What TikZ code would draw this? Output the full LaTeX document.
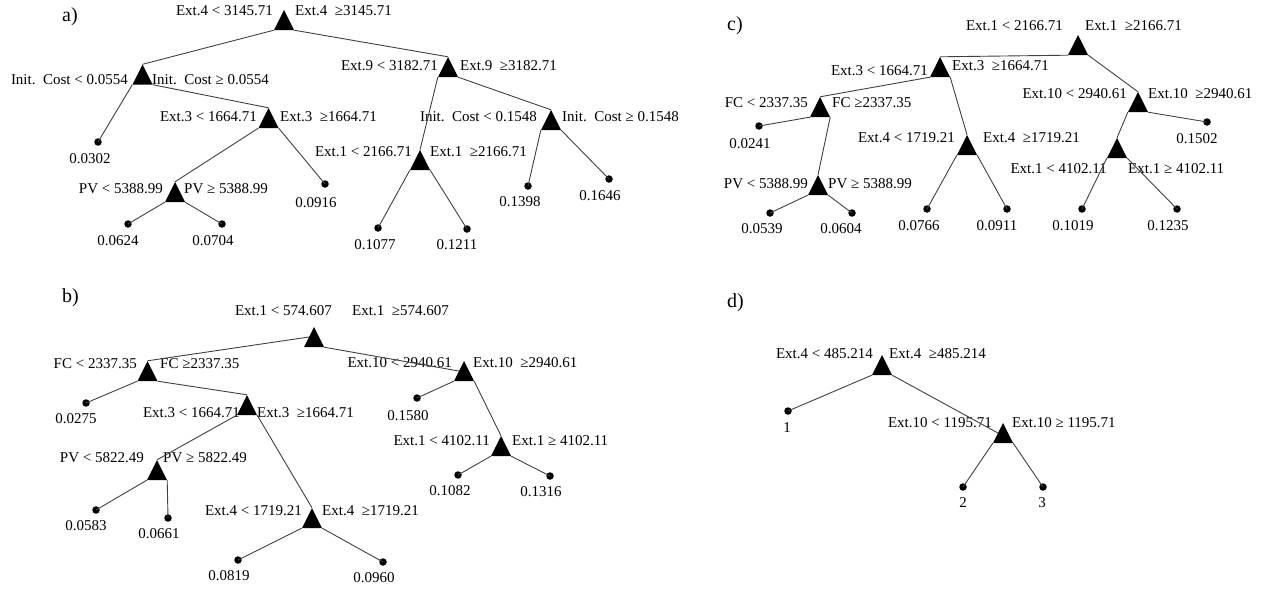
\documentclass[tikz,border=0pt]{standalone}
\usepackage{fontspec}
\setmainfont{Liberation Serif}
\usetikzlibrary{calc}

\tikzset{
  cond/.style={font=\fontsize{15}{18}\selectfont, inner sep=0pt},
  val/.style={font=\fontsize{15}{18}\selectfont, inner sep=0pt, anchor=base},
  panel/.style={font=\fontsize{20}{24}\selectfont, inner sep=0pt, anchor=base west},
  tri/.style={rectangle, draw=none, inner sep=0pt, minimum width=20pt, minimum height=20pt,
    path picture={\fill[black] (path picture bounding box.south west) --
      (path picture bounding box.south east) -- (path picture bounding box.north) -- cycle;}},
  dot/.style={circle, fill=black, inner sep=0pt, minimum size=7.5pt},
  edge/.style={draw=black!75, line width=0.9pt},
}

% split node: name, centre, left text anchor (base east), left text, right text anchor (base west), right text
\newcommand\tsplit[6]{%
  \node[tri] (#1) at (#2) {};
  \node[cond, anchor=base east] (#1l) at (#3) {#4};
  \node[cond, anchor=base west] (#1r) at (#5) {#6};
}
% leaf: name, dot centre, value position (base centre), value
\newcommand\tleaf[4]{%
  \node[dot] (#1) at (#2) {};
  \node[val] (#1t) at (#3) {#4};
}

\begin{document}
\begin{tikzpicture}[x=1pt, y=-1pt]
\useasboundingbox (0,0) rectangle (1273,592);

% ---------------- a) ----------------
\node[panel] (pa) at (62,21) {a)};
\tsplit{a0}{284,20}{273,15}{Ext.4 < 3145.71}{295,15}{Ext.4\ \ ≥3145.71}
\tsplit{a1}{142.5,74.5}{128,84}{Init.\ \ Cost < 0.0554}{152,84}{Init.\ \ Cost ≥ 0.0554}
\tsplit{a2}{268.5,118}{257,121}{Ext.3 < 1664.71}{280,121}{Ext.3\ \ ≥1664.71}
\tsplit{a3}{175,192}{163,193}{PV < 5388.99}{184,193}{PV ≥ 5388.99}
\tsplit{a5}{448,67}{438,70}{Ext.9 < 3182.71}{460,70}{Ext.9\ \ ≥3182.71}
\tsplit{a6}{420,160}{412,156}{Ext.1 < 2166.71}{430,156}{Ext.1\ \ ≥2166.71}
\tsplit{a7}{551,120}{537,121}{Init.\ \ Cost < 0.1548}{562,121}{Init.\ \ Cost ≥ 0.1548}
\tleaf{aL1}{98,142}{90,163}{0.0302}
\tleaf{aL2}{325,184}{316,207}{0.0916}
\tleaf{aL3}{128,224}{118,245}{0.0624}
\tleaf{aL4}{222,224}{213,245}{0.0704}
\tleaf{aL5}{378,228}{375,249}{0.1077}
\tleaf{aL6}{467,229}{457,249}{0.1211}
\tleaf{aL7}{528,186}{520,206}{0.1398}
\tleaf{aL8}{609,179}{600,200}{0.1646}
\draw[edge] (a0.south west) -- (a1.north);
\draw[edge] (a0.south east) -- (a5.north);
\draw[edge] (a1.south west) -- (aL1.center);
\draw[edge] (a1.south east) -- (a2.north);
\draw[edge] (a2.south west) -- (a3.north);
\draw[edge] (a2.south east) -- (aL2.center);
\draw[edge] (a3.south west) -- (aL3.center);
\draw[edge] (a3.south east) -- (aL4.center);
\draw[edge] (a5.south west) -- (a6.north);
\draw[edge] (a5.south east) -- (a7.north);
\draw[edge] (a6.south west) -- (aL5.center);
\draw[edge] (a6.south east) -- (aL6.center);
\draw[edge] (a7.south west) -- (aL7.center);
\draw[edge] (a7.south east) -- (aL8.center);

% ---------------- b) ----------------
\node[panel] (pb) at (62,302) {b)};
\tsplit{b0}{314,337}{332,315}{Ext.1 < 574.607}{352,315}{Ext.1\ \ ≥574.607}
\tsplit{b1}{147.5,371}{137,368}{FC < 2337.35}{160,368}{FC ≥2337.35}
\tsplit{b2}{247,405}{240,417}{Ext.3 < 1664.71}{257,417}{Ext.3\ \ ≥1664.71}
\tsplit{b3}{157,470}{144,462}{PV < 5822.49}{163,462}{PV ≥ 5822.49}
\tsplit{b4}{312,518}{302,515}{Ext.4 < 1719.21}{322,515}{Ext.4\ \ ≥1719.21}
\tsplit{b5}{464,371}{452,367}{Ext.10 < 2940.61}{473,367}{Ext.10\ \ ≥2940.61}
\tsplit{b6}{501,446}{490,445}{Ext.1 < 4102.11}{512,445}{Ext.1 ≥ 4102.11}
\tleaf{bL1}{86,403}{76,423}{0.0275}
\tleaf{bL2}{417,398}{408,420}{0.1580}
\tleaf{bL3}{96,510}{86,530}{0.0583}
\tleaf{bL4}{168,518}{159,538}{0.0661}
\tleaf{bL5}{238,560}{229,580}{0.0819}
\tleaf{bL6}{383,562}{374,582}{0.0960}
\tleaf{bL7}{458,475}{450,495}{0.1082}
\tleaf{bL8}{550,476}{541,496}{0.1316}
\draw[edge] ($(b0.south west)!0.5!(b0.north)$) -- (b1.north);
\draw[edge] (b0.south east) -- ($(b5.south west)!0.5!(b5.north)$);
\draw[edge] (b1.south west) -- (bL1.center);
\draw[edge] (b1.south east) -- (b2.north);
\draw[edge] (b2.south west) -- (b3.north);
\draw[edge] (b2.south east) -- (b4.north);
\draw[edge] (b3.south west) -- (bL3.center);
\draw[edge] (b3.south east) -- (bL4.center);
\draw[edge] (b4.south west) -- (bL5.center);
\draw[edge] (b4.south east) -- (bL6.center);
\draw[edge] (b5.south west) -- (bL2.center);
\draw[edge] (b5.south east) -- (b6.north);
\draw[edge] (b6.south west) -- (bL7.center);
\draw[edge] (b6.south east) -- (bL8.center);

% ---------------- c) ----------------
\node[panel] (pc) at (727,30) {c)};
\tsplit{c0}{1078,45}{1063,30}{Ext.1 < 2166.71}{1085,30}{Ext.1\ \ ≥2166.71}
\tsplit{c1}{940,67}{928,75}{Ext.3 < 1664.71}{952,70}{Ext.3\ \ ≥1664.71}
\tsplit{c2}{820,107}{808,107}{FC < 2337.35}{832,107}{FC ≥2337.35}
\tsplit{c3}{818,185}{808,188}{PV < 5388.99}{828,188}{PV ≥ 5388.99}
\tsplit{c4}{967,145}{955,142}{Ext.4 < 1719.21}{983,142}{Ext.4\ \ ≥1719.21}
\tsplit{c5}{1138,102}{1127,98}{Ext.10 < 2940.61}{1148,98}{Ext.10\ \ ≥2940.61}
\tsplit{c6}{1117,148}{1107,173}{Ext.1 < 4102.11}{1128,173}{Ext.1 ≥ 4102.11}
\tleaf{cL1}{759,126}{750,148}{0.0241}
\tleaf{cL2}{770,213}{762,233}{0.0539}
\tleaf{cL3}{852,213}{841,233}{0.0604}
\tleaf{cL4}{927,209}{919,230}{0.0766}
\tleaf{cL5}{1007,209}{997,230}{0.0911}
\tleaf{cL6}{1207,122}{1197,143}{0.1502}
\tleaf{cL7}{1082,209}{1073,230}{0.1019}
\tleaf{cL8}{1177,209}{1168,230}{0.1235}
\draw[edge] (c0.south west) -- (c1.north);
\draw[edge] (c0.south east) -- (c5.north);
\draw[edge] (c1.south west) -- (c2.north);
\draw[edge] (c1.south east) -- (c4.north);
\draw[edge] (c2.south west) -- (cL1.center);
\draw[edge] (c2.south east) -- (c3.north);
\draw[edge] (c3.south west) -- (cL2.center);
\draw[edge] (c3.south east) -- (cL3.center);
\draw[edge] (c4.south west) -- (cL4.center);
\draw[edge] (c4.south east) -- (cL5.center);
\draw[edge] (c5.south west) -- (c6.north);
\draw[edge] (c5.south east) -- (cL6.center);
\draw[edge] (c6.south west) -- (cL7.center);
\draw[edge] (c6.south east) -- (cL8.center);

% ---------------- d) ----------------
\node[panel] (pd) at (727,307) {d)};
\tsplit{d0}{882,365}{873,358}{Ext.4 < 485.214}{889,358}{Ext.4\ \ ≥485.214}
\tsplit{d1}{1003,433}{992,427}{Ext.10 < 1195.71}{1012,427}{Ext.10 ≥ 1195.71}
\tleaf{dL1}{788,411}{787,432}{1}
\tleaf{dL2}{963,487}{963,507}{2}
\tleaf{dL3}{1043,487}{1042,507}{3}
\draw[edge] (d0.south west) -- (dL1.center);
\draw[edge] (d0.south east) -- ($(d1.south west)!0.5!(d1.north)$);
\draw[edge] (d1.south west) -- (dL2.center);
\draw[edge] (d1.south east) -- (dL3.center);
\end{tikzpicture}
\end{document}
